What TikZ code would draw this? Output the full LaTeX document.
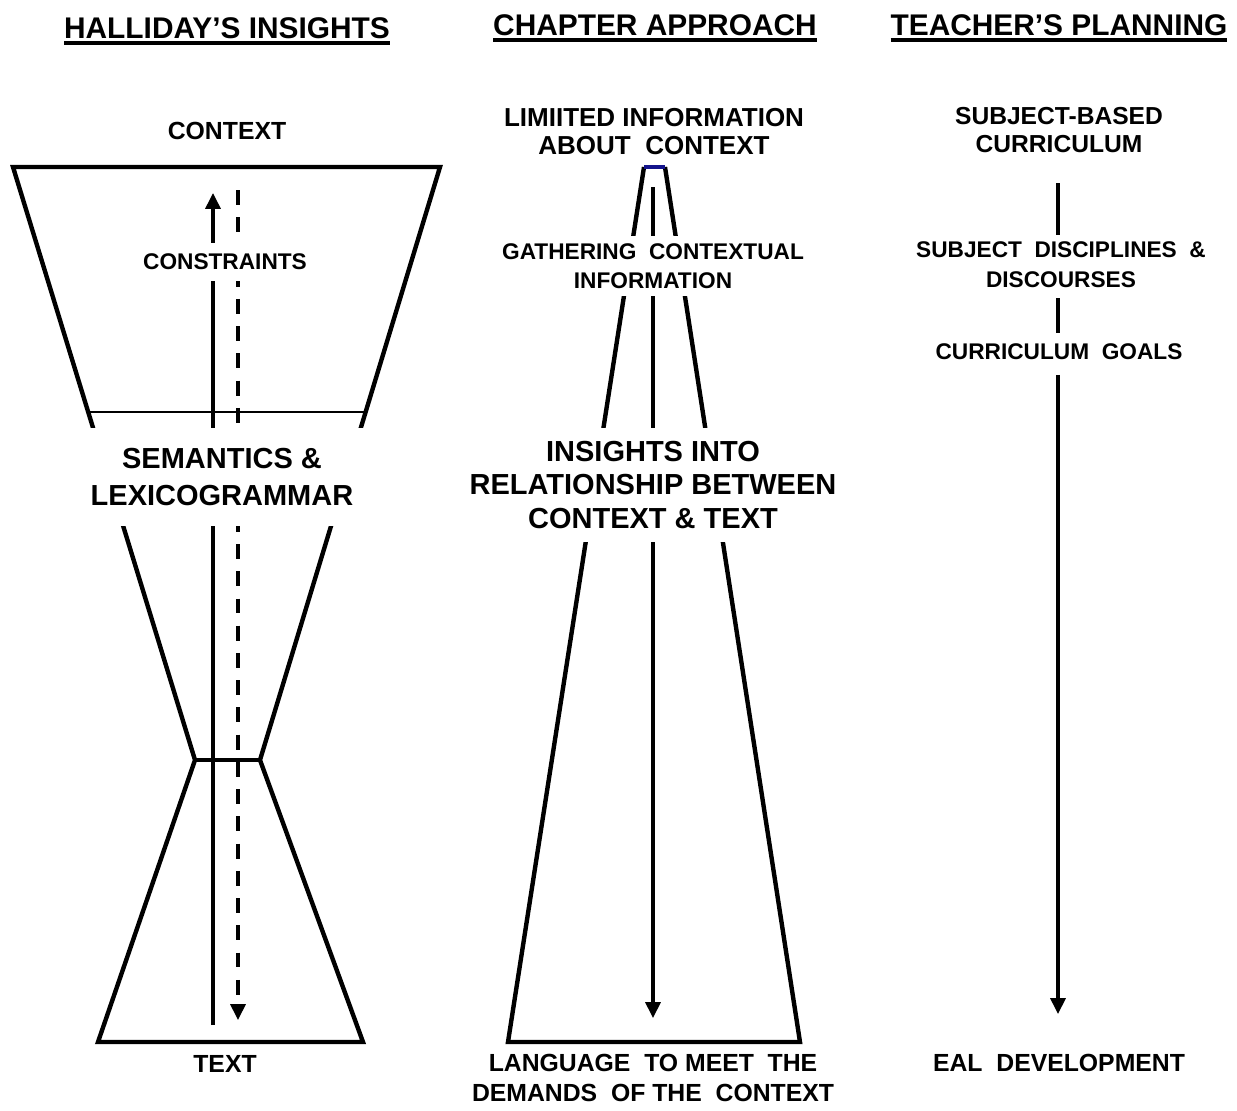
\documentclass[tikz,border=0pt]{standalone}
\usepackage{fontspec}
\setmainfont{Liberation Sans}
\usetikzlibrary{arrows.meta}
\usetikzlibrary{calc}
\usetikzlibrary{backgrounds}

\definecolor{navy}{RGB}{20,20,140}
\newcommand{\titleline}[1]{\setbox0\hbox{#1}\rlap{\rule[-4pt]{\wd0}{2.2pt}}\box0}

\tikzset{
  heading/.style={font=\bfseries\fontsize{17}{20}\selectfont, anchor=base},
  bigtxt/.style={font=\bfseries\fontsize{16.5}{19.3}\selectfont, align=center, inner sep=0pt},
  txt/.style={font=\bfseries\fontsize{14.1}{17}\selectfont, align=center, inner sep=0pt},
  smalltxt/.style={font=\bfseries\fontsize{12.9}{16.5}\selectfont, align=center, inner sep=0pt},
  gap/.style={fill=white, inner xsep=6pt},
  outline/.style={line width=2.5pt},
  thinline/.style={line width=0.9pt},
  link/.style={line width=1.9pt},
  arr/.style={link, -{Triangle[length=9pt,width=8.5pt]}},
  dashedarr/.style={arr, dash pattern=on 8.5pt off 7pt},
}

\begin{document}
\begin{tikzpicture}[x=0.02cm, y=-0.02cm]
    \useasboundingbox (0,0) rectangle (1237,1110);

    % halliday's insights
    \coordinate (hTL) at (13,167);
    \coordinate (hTR) at (440,167);
    \coordinate (hWL) at (195,760);
    \coordinate (hWR) at (260,760);
    \coordinate (hBL) at (98,1042);
    \coordinate (hBR) at (363,1042);
    \coordinate (hUpS) at (213,1025);
    \coordinate (hUpE) at (213,193);
    \coordinate (hDnS) at (238,190);
    \coordinate (hDnE) at (238,1020);

    \node[heading] (hTitle) at (227,38) {\titleline{HALLIDAY'S INSIGHTS}};
    \node[txt] (hContext) at (227,131) {CONTEXT};
    \node[smalltxt, gap, inner ysep=0.22cm] (hCons) at (225,262) {CONSTRAINTS};
    \node[bigtxt, gap, inner ysep=0.4cm, font=\bfseries\fontsize{16.5}{21.6}\selectfont] (hSem) at (222,477) {SEMANTICS \&\\LEXICOGRAMMAR};
    \node[txt] (hText) at (225,1064) {TEXT};

    % chapter approach
    \coordinate (mTL) at (644,167);
    \coordinate (mTR) at (665,167);
    \coordinate (mBL) at (508,1042);
    \coordinate (mBR) at (800,1042);
    \coordinate (mS) at (653,187);
    \coordinate (mE) at (653,1018);

    \node[heading] (cTitle) at (655,35) {\titleline{CHAPTER APPROACH}};
    \node[txt, font=\bfseries\fontsize{14.8}{16}\selectfont] (cLim) at (654,131.5) {LIMIITED INFORMATION\\ABOUT \ CONTEXT};
    \node[smalltxt, gap, inner ysep=0.15cm] (cGath) at (653,266) {GATHERING \ CONTEXTUAL\\INFORMATION};
    \node[bigtxt, gap, inner ysep=0.25cm] (cIns) at (653,485) {INSIGHTS INTO\\RELATIONSHIP BETWEEN\\CONTEXT \& TEXT};
    \node[txt] (cLang) at (653,1078) {LANGUAGE \ TO MEET \ THE\\DEMANDS \ OF THE \ CONTEXT};

    % teacher's planning
    \coordinate (tx) at (1058,0);
    \coordinate (tEnd) at (1058,1014);

    \node[heading] (tTitle) at (1059,35) {\titleline{TEACHER'S PLANNING}};
    \node[txt, font=\bfseries\fontsize{14}{16}\selectfont] (tSub) at (1059,130) {SUBJECT-BASED\\CURRICULUM};
    \node[smalltxt, font=\bfseries\fontsize{12.9}{17}\selectfont] (tDisc) at (1061,265) {SUBJECT \ DISCIPLINES \ \&\\DISCOURSES};
    \node[smalltxt] (tGoals) at (1059,351.5) {CURRICULUM \ GOALS};
    \node[txt] (tEal) at (1059,1062.5) {EAL \ DEVELOPMENT};

    \draw[link, shorten <=0.6cm, shorten >=0.14cm] (tSub.south -| tx) -- (tDisc.north -| tx);
    \draw[link, shorten <=0.2cm, shorten >=0.2cm] (tDisc.south -| tx) -- (tGoals.north -| tx);
    \draw[arr, shorten <=0.3cm] (tGoals.south -| tx) -- (tEnd);

    \begin{scope}[on background layer]
        \draw[outline] (hTL) -- (hTR) -- (hWR) -- (hBR) -- (hBL) -- (hWL) -- cycle;
        \draw[outline] (hWL) -- (hWR);
        \draw[thinline] ($(hTL)!0.413!(hWL)$) -- ($(hTR)!0.413!(hWR)$);
        \draw[arr] (hUpS) -- (hUpE);
        \draw[dashedarr] (hDnS) -- (hDnE);

        \draw[outline] (mTL) -- (mBL) -- (mBR) -- (mTR);
        \draw[link, draw=navy] (mTL) -- (mTR);
        \draw[arr] (mS) -- (mE);
    \end{scope}
\end{tikzpicture}
\end{document}
